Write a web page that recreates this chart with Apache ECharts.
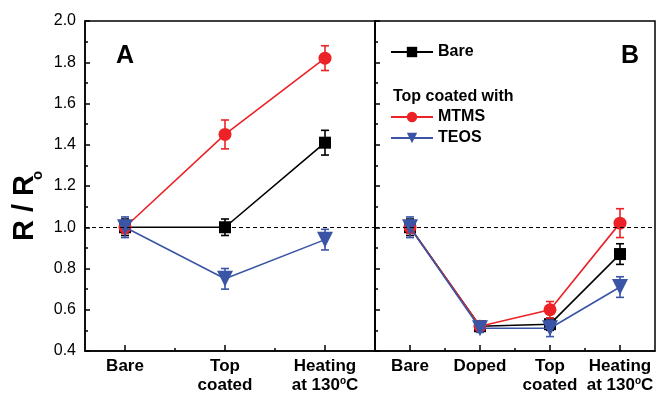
<!DOCTYPE html>
<html><head><meta charset="utf-8">
<script src="https://cdn.jsdelivr.net/npm/echarts@6/dist/echarts.min.js"></script>
<style>html,body{margin:0;padding:0;background:#fff}#c{width:657px;height:395px}</style>
</head><body><div id="c"></div>
<script>
// ---- Panel A data ----
const catsA = ['Bare', 'Top\ncoated', 'Heating\nat 130{s|o}C'];
const posA = [1, 2, 3];
const minorA = [1.5, 2.5];
const bareA = [1.00, 1.00, 1.41];
const bareAErr = [0.04, 0.04, 0.06];
const mtmsA = [1.00, 1.45, 1.82];
const mtmsAErr = [0.03, 0.07, 0.06];
const teosA = [1.00, 0.75, 0.94];
const teosAErr = [0.05, 0.05, 0.05];
// ---- Panel B data ----
const catsB = ['Bare', 'Doped', 'Top\ncoated', 'Heating\nat 130{s|o}C'];
const posB = [1, 2, 3, 4];
const minorB = [1.5, 2.5, 3.5];
const bareB = [1.00, 0.52, 0.53, 0.87];
const bareBErr = [0.04, 0.02, 0.03, 0.05];
const mtmsB = [1.00, 0.52, 0.60, 1.02];
const mtmsBErr = [0.03, 0.02, 0.04, 0.07];
const teosB = [1.00, 0.51, 0.51, 0.71];
const teosBErr = [0.05, 0.02, 0.04, 0.05];
const refLine = 1.0;

const RED = '#ec2227', BLUE = '#3b55a6', BLACK = '#000';
const FONT = 'Liberation Sans, Arial, sans-serif';

function pts(pos, vals) { return pos.map((p, i) => [p, vals[i]]); }
function errPts(pos, vals, errs) { return pos.map((p, i) => [p, vals[i], errs[i]]); }

function errRender(color) {
  return function (params, api) {
    const x = api.value(0), y = api.value(1), e = api.value(2);
    const t = api.coord([x, y + e]), b = api.coord([x, y - e]);
    const hw = 4;
    const st = { stroke: color, lineWidth: 1.6 };
    return { type: 'group', children: [
      { type: 'line', shape: { x1: t[0], y1: t[1], x2: b[0], y2: b[1] }, style: st },
      { type: 'line', shape: { x1: t[0] - hw, y1: t[1], x2: t[0] + hw, y2: t[1] }, style: st },
      { type: 'line', shape: { x1: b[0] - hw, y1: b[1], x2: b[0] + hw, y2: b[1] }, style: st }
    ]};
  };
}

const catLabel = (pos, cats) => ({
  customValues: pos,
  formatter: v => cats[pos.indexOf(v)] || '',
  fontFamily: FONT, fontWeight: 'bold', fontSize: 17, color: '#000',
  lineHeight: 19, margin: 6,
  rich: { s: { fontSize: 10, fontWeight: 'bold', verticalAlign: 'top', lineHeight: 19, fontFamily: FONT } }
});

function mainX(gi, min, max, pos, cats) {
  return {
    type: 'value', gridIndex: gi, min: min, max: max,
    axisLine: { show: true, onZero: false, lineStyle: { color: '#000', width: 1.5 } },
    axisTick: { show: true, inside: true, length: 6, customValues: pos, lineStyle: { color: '#000', width: 1.5 } },
    axisLabel: catLabel(pos, cats),
    splitLine: { show: false }
  };
}
function minorX(gi, min, max, pos) {
  return {
    type: 'value', gridIndex: gi, min: min, max: max, position: 'bottom',
    axisLine: { show: false, onZero: false },
    axisTick: { show: true, inside: true, length: 3, customValues: pos, lineStyle: { color: '#000', width: 1.5 } },
    axisLabel: { show: false }, splitLine: { show: false }
  };
}
function yAx(gi, showLabel) {
  return {
    type: 'value', gridIndex: gi, min: 0.4, max: 2.0, interval: 0.2,
    axisLine: { show: true, onZero: false, lineStyle: { color: '#000', width: 1.5 } },
    axisTick: { show: true, inside: true, length: 5, lineStyle: { color: '#000', width: 1.5 } },
    minorTick: { show: true, splitNumber: 2, length: 3, lineStyle: { color: '#000', width: 1.5 } },
    axisLabel: { show: showLabel, formatter: v => v.toFixed(1), fontFamily: FONT, fontSize: 16, color: '#000', margin: 9 },
    splitLine: { show: false }
  };
}

function lineSeries(name, gi, data, color, symbol, size, rot, z, withRef) {
  const s = {
    name: name, type: 'line', xAxisIndex: gi * 2, yAxisIndex: gi, data: data,
    symbol: symbol, symbolSize: size, symbolRotate: rot, showSymbol: true,
    itemStyle: { color: color }, lineStyle: { color: color, width: 1.6 },
    z: z, animation: false
  };
  if (withRef) {
    s.markLine = { silent: true, symbol: 'none', label: { show: false },
      lineStyle: { color: '#000', width: 1.2, type: [4, 3] }, data: [{ yAxis: refLine }], animation: false };
  }
  return s;
}
function errSeries(gi, data, color, z) {
  return { type: 'custom', xAxisIndex: gi * 2, yAxisIndex: gi, data: data,
    renderItem: errRender(color), z: z, silent: true, animation: false };
}

const legendText = { fontFamily: FONT, fontWeight: 'bold', fontSize: 16, color: '#000' };
const option = {
  animation: false,
  grid: [
    { left: 85, top: 21, width: 290, height: 330, show: true, borderColor: '#000', borderWidth: 1.5, backgroundColor: 'transparent' },
    { left: 375, top: 21, width: 280, height: 330, show: true, borderColor: '#000', borderWidth: 1.5, backgroundColor: 'transparent' }
  ],
  xAxis: [
    mainX(0, 0.6, 3.5, posA, catsA), minorX(0, 0.6, 3.5, minorA),
    mainX(1, 0.5, 4.5, posB, catsB), minorX(1, 0.5, 4.5, minorB)
  ],
  yAxis: [yAx(0, true), yAx(1, false)],
  legend: [
    { data: ['Bare'], left: 390, top: 44, itemWidth: 42, itemHeight: 13, itemGap: 6, padding: 0,
      textStyle: legendText },
    { data: ['MTMS', 'TEOS'], orient: 'vertical', left: 390, top: 109, itemWidth: 42, itemHeight: 13, itemGap: 5, padding: 0,
      textStyle: legendText }
  ],
  graphic: [
    { type: 'text', left: 116, top: 44, style: { text: 'A', font: 'bold 25px ' + FONT, fill: '#000' } },
    { type: 'text', left: 621, top: 44, style: { text: 'B', font: 'bold 25px ' + FONT, fill: '#000' } },
    { type: 'text', left: 393, top: 89, style: { text: 'Top coated with', font: 'bold 16px ' + FONT, fill: '#000' } },
    { type: 'text', x: 10, y: 241, rotation: Math.PI / 2, style: { text: 'R / R', font: 'bold 29px ' + FONT, fill: '#000', textVerticalAlign: 'top' } },
    { type: 'text', x: 30, y: 180, rotation: Math.PI / 2, style: { text: 'o', font: 'bold 15px ' + FONT, fill: '#000', textVerticalAlign: 'top' } }
  ],
  series: [
    lineSeries('Bare', 0, pts(posA, bareA), BLACK, 'rect', 12, 0, 2, true),
    errSeries(0, errPts(posA, bareA, bareAErr), BLACK, 2),
    lineSeries('MTMS', 0, pts(posA, mtmsA), RED, 'circle', 13, 0, 3, false),
    errSeries(0, errPts(posA, mtmsA, mtmsAErr), RED, 3),
    lineSeries('TEOS', 0, pts(posA, teosA), BLUE, 'triangle', 16, 180, 4, false),
    errSeries(0, errPts(posA, teosA, teosAErr), BLUE, 4),
    lineSeries('Bare', 1, pts(posB, bareB), BLACK, 'rect', 12, 0, 2, true),
    errSeries(1, errPts(posB, bareB, bareBErr), BLACK, 2),
    lineSeries('MTMS', 1, pts(posB, mtmsB), RED, 'circle', 13, 0, 3, false),
    errSeries(1, errPts(posB, mtmsB, mtmsBErr), RED, 3),
    lineSeries('TEOS', 1, pts(posB, teosB), BLUE, 'triangle', 16, 180, 4, false),
    errSeries(1, errPts(posB, teosB, teosBErr), BLUE, 4)
  ]
};
const chart = echarts.init(document.getElementById('c'), null, { renderer: 'canvas' });
chart.setOption(option);
</script></body></html>
